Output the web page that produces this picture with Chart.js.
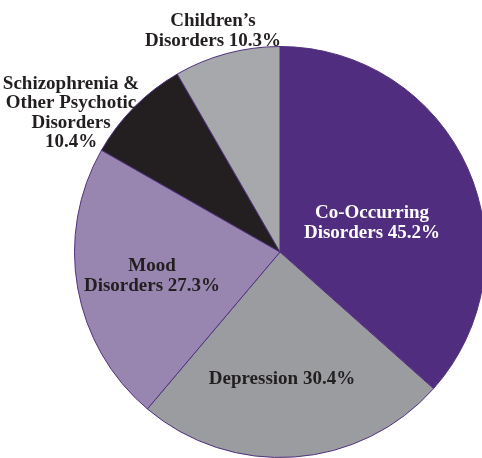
<!DOCTYPE html>
<html>
<head>
<meta charset="utf-8">
<script src="https://cdn.jsdelivr.net/npm/chart.js@4"></script>
<style>
  html, body { margin: 0; padding: 0; background: #fff; overflow: hidden; width: 482px; height: 458px; }
  canvas { display: block; }
</style>
</head>
<body>
<canvas id="pieChart" width="560" height="458"></canvas>
<script>
// Daten (Reihenfolge im Uhrzeigersinn ab 12 Uhr)
const categories = ['Co-Occurring Disorders', 'Depression', 'Mood Disorders', 'Schizophrenia & Other Psychotic Disorders', "Children's Disorders"];
const values = [45.2, 30.4, 27.3, 10.4, 10.3];
const labelLines = [
    ['Co-Occurring', 'Disorders 45.2%'],
    ['Depression 30.4%'],
    ['Mood', 'Disorders 27.3%'],
    ['Schizophrenia &', 'Other Psychotic', 'Disorders', '10.4%'],
    ['Children\u2019s', 'Disorders 10.3%']
];

const colors = ['#512d7f', '#9b9c9f', '#9886b0', '#231f20', '#a6a8ab'];
const textColors = ['#ffffff', '#231f20', '#231f20', '#231f20', '#231f20'];
// Versatz der Beschriftung vom Mittelpunkt (px)
const labelOffsets = [[92, -29], [2, 127], [-128, 24], [-209, -139], [-67, -221]];

// Beschriftungen zeichnen
const sliceLabels = {
    id: 'sliceLabels',
    afterDraw(chart) {
        const ctx = chart.ctx;
        const arc = chart.getDatasetMeta(0).data[0];
        const cx = arc.x, cy = arc.y;
        ctx.save();
        ctx.font = 'bold 19px "Liberation Serif", serif';
        ctx.textAlign = 'center';
        ctx.textBaseline = 'middle';
        const lh = 19.5;
        labelLines.forEach((lines, i) => {
            ctx.fillStyle = textColors[i];
            const x = cx + labelOffsets[i][0];
            const y0 = cy + labelOffsets[i][1] - (lines.length - 1) * lh / 2;
            lines.forEach((t, j) => ctx.fillText(t, x, y0 + j * lh));
        });
        ctx.restore();
    }
};

const ctx = document.getElementById('pieChart').getContext('2d');
const myChart = new Chart(ctx, {
    type: 'pie',
    data: {
        labels: categories,
        datasets: [{
            data: values,
            backgroundColor: colors,
            borderColor: '#50307e',
            borderWidth: 1
        }]
    },
    options: {
        responsive: false,
        animation: false,
        layout: { padding: { left: 74, right: 74, top: 46, bottom: 0 } },
        plugins: {
            legend: { display: false },
            tooltip: { enabled: false }
        }
    },
    plugins: [sliceLabels]
});
</script>
</body>
</html>
